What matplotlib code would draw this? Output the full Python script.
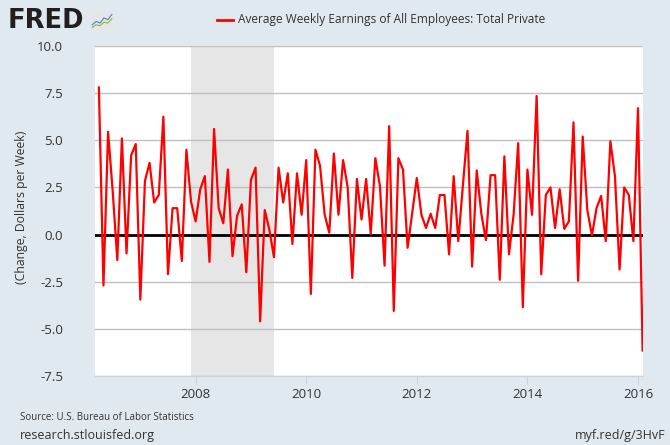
import matplotlib
matplotlib.use("Agg")
import matplotlib.pyplot as plt
import pandas as pd

# monthly change in average weekly earnings, Apr 2006 - Feb 2016
changes = [
    7.8, -2.7, 5.45, 2.3, -1.35, 5.1, -1.0, 4.2, 4.8, -3.45,
    2.85, 3.8, 1.7, 2.1, 6.25, -2.1, 1.4, 1.4, -1.4, 4.5,
    1.75, 0.7, 2.4, 3.1, -1.45, 5.6, 1.4, 0.6, 3.45, -1.15,
    1.0, 1.6, -2.0, 2.9, 3.55, -4.6, 1.3, 0.25, -1.2, 3.55,
    1.7, 3.25, -0.5, 3.25, 1.05, 3.95, -3.15, 4.5, 3.65, 1.05,
    0.1, 4.3, 1.05, 3.95, 2.5, -2.3, 2.95, 0.8, 2.95, 0.05,
    4.05, 2.55, -1.65, 5.75, -4.05, 4.05, 3.45, -0.7, 1.15, 3.0,
    1.05, 0.35, 1.1, 0.35, 2.1, 2.1, -1.05, 3.1, -0.35, 2.6,
    5.5, -1.7, 3.4, 1.1, -0.3, 3.15, 3.15, -2.4, 4.15, -1.05,
    1.05, 4.85, -3.85, 3.45, 1.05, 7.35, -2.1, 2.1, 2.5, 0.35,
    2.4, 0.3, 0.7, 5.95, -2.45, 5.2, 1.3, -0.05, 1.4, 2.05,
    -0.35, 4.95, 3.1, -1.85, 2.5, 2.1, -0.35, 6.7, -6.15,
]
start_month = "2006-04-01"
recession = (2007 + 11 / 12, 2009 + 5 / 12)  # Dec 2007 - Jun 2009
year_ticks = [2008, 2010, 2012, 2014, 2016]
y_ticks = [-7.5, -5.0, -2.5, 0.0, 2.5, 5.0, 7.5, 10.0]
series_name = "Average Weekly Earnings of All Employees: Total Private"

# little FRED logo chart
icon_x = [0, 1, 2, 3, 4, 5]
icon_blue = [0.3, 0.5, 0.4, 0.7, 0.6, 0.9]
icon_green = [0.15, 0.3, 0.25, 0.45, 0.4, 0.65]

bg = "#e1e9f0"
txt = "#333333"
plt.rcParams["font.family"] = ["Open Sans", "DejaVu Sans"]

dates = pd.date_range(start_month, periods=len(changes), freq="MS")
x = dates.year + (dates.month - 1) / 12.0

fig = plt.figure(figsize=(6.7, 4.45), dpi=100, facecolor=bg)
ax = fig.add_axes([95 / 670, 1 - 376 / 445, (642.7 - 95) / 670, 330 / 445])
ax.set_facecolor("white")

ax.axvspan(recession[0], recession[1], color="#e6e6e6", lw=0, zorder=0)
for v in y_ticks:
    ax.axhline(v, color="#c0c0c0", lw=1, zorder=1)
ax.axhline(0, color="black", lw=2, zorder=2)
ax.plot(x, changes, color="#ff0000", lw=1.6, zorder=3)

ax.set_xlim(2006.18, 2016.085)
ax.set_ylim(-7.5, 10)
ax.set_yticks(y_ticks)
ax.set_yticklabels(["%.1f" % v for v in y_ticks])
ax.set_xticks(year_ticks)
ax.set_xticklabels([str(y) for y in year_ticks])
for s in ["top", "left", "right"]:
    ax.spines[s].set_visible(False)
ax.spines["bottom"].set_color("#c5d3e2")
ax.tick_params(axis="x", length=6, color="#c5d3e2", pad=3, labelsize=9.5, labelcolor=txt)
ax.tick_params(axis="y", length=0, pad=23, labelsize=9.5, labelcolor=txt)
ax.set_ylabel("(Change, Dollars per Week)", fontsize=8.8, color=txt)
ax.yaxis.set_label_coords(-0.122, 0.51)

# header
fig.text(8 / 670, 1 - 21 / 445, "FRED", family="DejaVu Sans", weight="bold",
         fontsize=18.5, color="#231f20", va="center", ha="left")
iax = fig.add_axes([91 / 670, 1 - 30 / 445, 22 / 670, 19 / 445])
iax.set_facecolor("#e6e6e6")
iax.plot(icon_x, icon_blue, color="#4f81bd", lw=0.8)
iax.plot(icon_x, icon_green, color="#8bb34a", lw=0.8)
iax.set_xlim(-0.3, 5.3)
iax.set_ylim(0, 1.1)
iax.set_xticks([])
iax.set_yticks([])
for s in iax.spines.values():
    s.set_visible(False)

fig.lines.append(plt.Line2D([217 / 670, 233 / 670], [1 - 20 / 445, 1 - 20 / 445],
                            transform=fig.transFigure, color="#ff0000", lw=2))
fig.text(238 / 670, 1 - 20 / 445, series_name, fontsize=8.6, color=txt,
         va="center", ha="left")

# footer
fig.text(20 / 670, 1 - 417 / 445, "Source: U.S. Bureau of Labor Statistics",
         fontsize=7, color=txt, va="center", ha="left")
fig.text(20 / 670, 1 - 436 / 445, "research.stlouisfed.org",
         fontsize=9, color=txt, va="center", ha="left")
fig.text(665 / 670, 1 - 436 / 445, "myf.red/g/3HvF",
         fontsize=9, color=txt, va="center", ha="right")

fig.savefig("out.png", dpi=100, facecolor=bg)
